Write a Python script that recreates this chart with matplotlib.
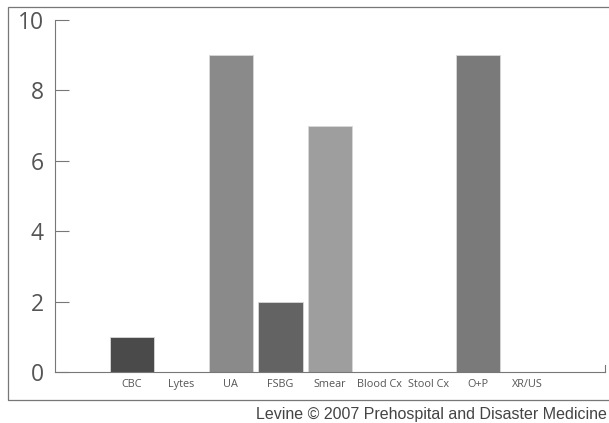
import matplotlib
matplotlib.use("Agg")
import matplotlib.pyplot as plt
from matplotlib.patches import Rectangle

# data
categories = ["CBC", "Lytes", "UA", "FSBG", "Smear", "Blood Cx", "Stool Cx", "O+P", "XR/US"]
counts = [1, 0, 9, 2, 7, 0, 0, 9, 0]
bar_colors = ["#4a4a4a", "#ffffff", "#8a8a8a", "#636363", "#9e9e9e",
              "#ffffff", "#ffffff", "#7a7a7a", "#ffffff"]
y_ticks = [0, 2, 4, 6, 8, 10]

fig = plt.figure(figsize=(6.09, 4.23), dpi=100)
ax = fig.add_axes([55 / 609, 1 - 372 / 423, 550 / 609, 352 / 423])

x = list(range(len(categories)))
ax.bar(x, counts, width=0.9, color=bar_colors, edgecolor="#d8d8d8", linewidth=0.6)

ax.set_xlim(-1.56, 9.57)
ax.set_ylim(0, 10)
ax.set_yticks(y_ticks)
ax.set_yticklabels([str(v) for v in y_ticks], fontsize=16.5, family="Open Sans", color="#555555")
ax.set_xticks(x)
ax.set_xticklabels(categories, fontsize=7.8, family="Open Sans", color="#555555")
ax.tick_params(axis="y", direction="in", length=10, width=0.8, color="#777777", pad=8)
ax.tick_params(axis="x", length=0, pad=5)

for side in ["top", "right"]:
    ax.spines[side].set_visible(False)
for side in ["left", "bottom"]:
    ax.spines[side].set_color("#777777")
    ax.spines[side].set_linewidth(0.8)

# little end mark on the x axis
ax.plot([1, 1], [0, 0.2], transform=ax.get_yaxis_transform(), color="#777777", lw=0.8, clip_on=False)

# outer frame round the chart
fig.patches.append(Rectangle((8 / 609, 1 - 400 / 423), 1.0, 393 / 423,
                             transform=fig.transFigure, fill=False,
                             edgecolor="#777777", linewidth=0.9))

fig.text(0.997, 1 - 414 / 423, "Levine \u00a9 2007 Prehospital and Disaster Medicine",
         ha="right", va="center", fontsize=11.5, family="Liberation Sans", color="#444444")

fig.savefig("out.png", dpi=100)
